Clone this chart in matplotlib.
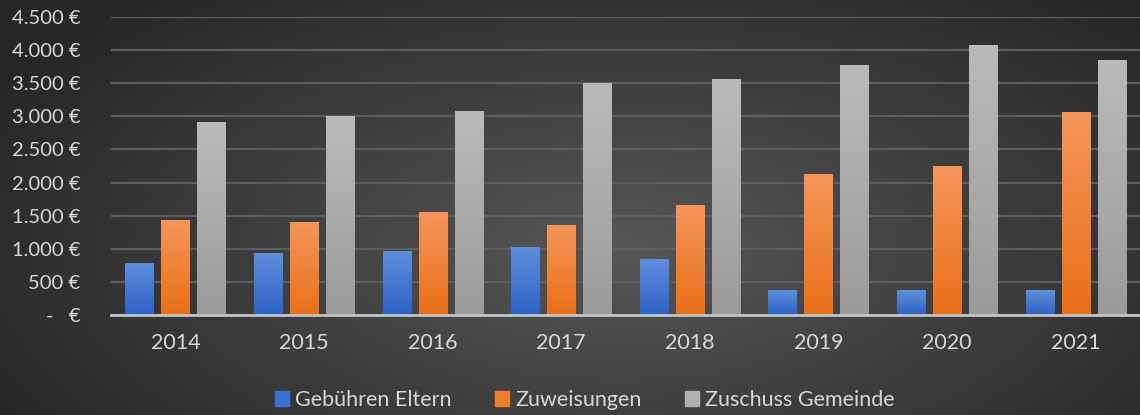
import numpy as np
import matplotlib
matplotlib.use("Agg")
import matplotlib.pyplot as plt
from matplotlib.ticker import FuncFormatter, MultipleLocator
from matplotlib.colors import LinearSegmentedColormap
from matplotlib.patches import Patch

# data
years = ['2014', '2015', '2016', '2017', '2018', '2019', '2020', '2021']
gebuehren_eltern = [790, 940, 970, 1030, 845, 370, 370, 370]
zuweisungen = [1430, 1410, 1550, 1360, 1660, 2130, 2250, 3070]
zuschuss_gemeinde = [2915, 3005, 3085, 3505, 3560, 3780, 4070, 3850]
series_names = ['Gebühren Eltern', 'Zuweisungen', 'Zuschuss Gemeinde']

plt.rcParams['font.family'] = ['Lato', 'DejaVu Sans']

fig = plt.figure(figsize=(11.4, 4.15), dpi=100)

# dark radial background
bg_ax = fig.add_axes([0, 0, 1, 1], zorder=-10)
yy, xx = np.mgrid[0:415, 0:1140]
r = np.sqrt(((xx - 620) / 680.0) ** 2 + ((yy - 250) / 320.0) ** 2)
bg = np.clip(0.34 - 0.18 * r, 0.15, 0.34)
bg_ax.imshow(np.dstack([bg, bg, bg]), aspect='auto', extent=[0, 1, 0, 1])
bg_ax.axis('off')

ax = fig.add_axes([0.0974, 0.241, 0.9026, 0.718])
ax.set_facecolor('none')

x = np.arange(len(years))
width = 0.218
step = 0.28
colors = [('#5f8fdc', '#2c62c6'), ('#f5965a', '#ea7018'), ('#bababa', '#9b9b9b')]
legend_colors = ['#3a70d4', '#f07e2c', '#b0b0b0']
values = [gebuehren_eltern, zuweisungen, zuschuss_gemeinde]

for i, (vals, name, (top_c, bot_c)) in enumerate(zip(values, series_names, colors)):
    bars = ax.bar(x + (i - 1) * step, vals, width, color=bot_c, label=name,
                  edgecolor='#2a2a2a', linewidth=0.6, zorder=3)
    cmap = LinearSegmentedColormap.from_list('g%d' % i, [bot_c, top_c])
    grad = np.linspace(0, 1, 256).reshape(-1, 1)
    for b in bars:
        x0, y0 = b.get_x(), b.get_y()
        w, h = b.get_width(), b.get_height()
        im = ax.imshow(grad, cmap=cmap, aspect='auto', origin='lower',
                       extent=[x0, x0 + w, y0, y0 + h], zorder=3.5)
        im.set_clip_path(b)

ax.set_xlim(-0.5, len(years) - 0.5)
ax.set_ylim(0, 4500)
ax.yaxis.set_major_locator(MultipleLocator(500))


def euro(v, pos):
    if v == 0:
        return '-   €'
    return '{:,.0f} €'.format(v).replace(',', '.')


ax.yaxis.set_major_formatter(FuncFormatter(euro))
ax.set_xticks(x)
ax.set_xticklabels(years)
ax.tick_params(axis='both', length=0, colors='#d8d8d8', labelsize=15.5)
ax.tick_params(axis='y', labelsize=14.5, pad=22)
ax.tick_params(axis='x', pad=13)
ax.grid(axis='y', color='#5e5e5e', linewidth=1.6, zorder=0)
ax.set_axisbelow(True)
for s in ['top', 'right', 'left']:
    ax.spines[s].set_visible(False)
ax.spines['bottom'].set_color('#c4c4c4')
ax.spines['bottom'].set_linewidth(2)
ax.spines['bottom'].set_zorder(5)

handles = [Patch(color=c, label=n) for c, n in zip(legend_colors, series_names)]
fig.legend(handles=handles, loc='center', bbox_to_anchor=(0.513, 0.036),
           ncol=3, frameon=False, fontsize=15.5, handlelength=0.65,
           handleheight=0.65, handletextpad=0.3, columnspacing=2.0,
           labelcolor='#d8d8d8')

fig.savefig('out.png', dpi=100)
